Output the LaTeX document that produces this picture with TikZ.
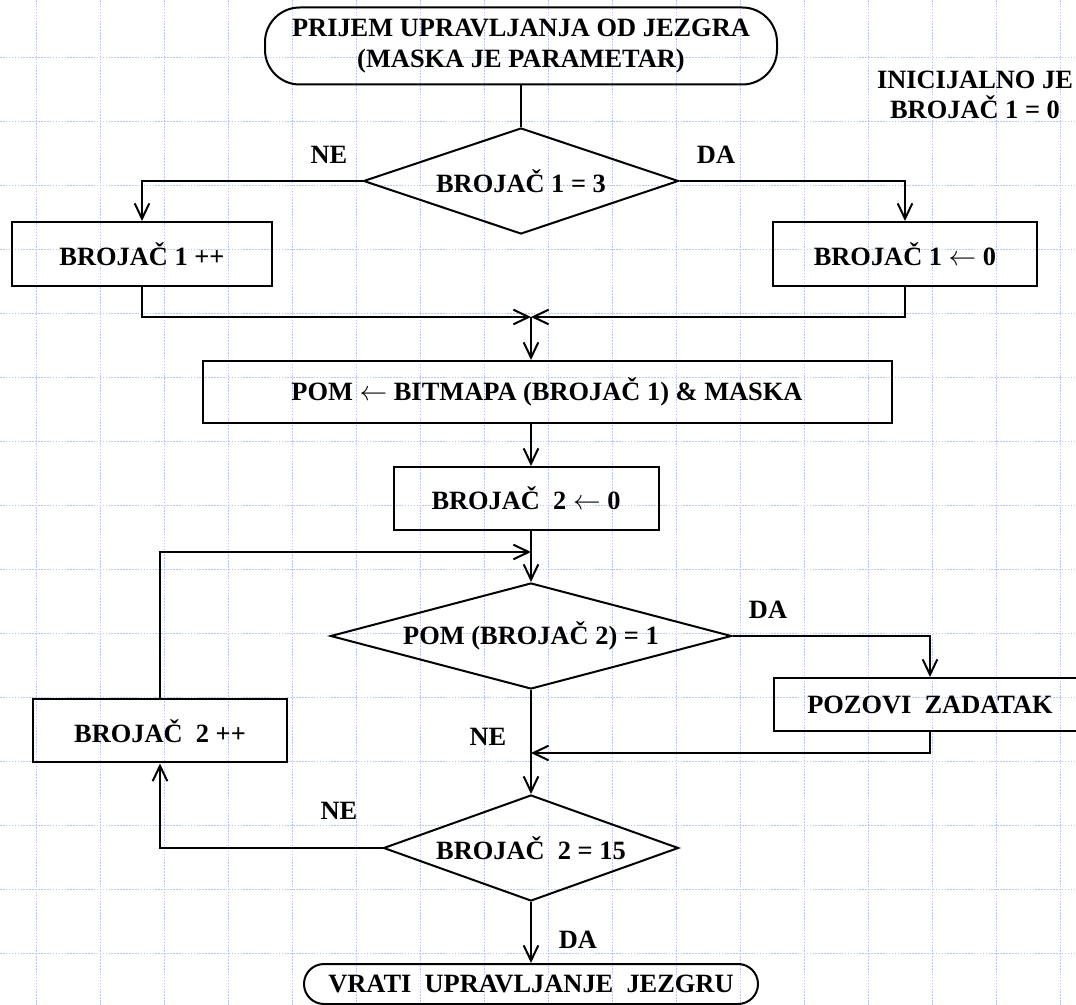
\documentclass[tikz,border=0pt]{standalone}
\usepackage{fontspec}
\setmainfont{Liberation Serif}
\usetikzlibrary{arrows.meta,shapes.geometric}

\begin{document}
\begin{tikzpicture}[x=0.75pt,y=-0.75pt,->,>={Straight Barb[length=11.5pt,width=11pt]},
                    line width=1.5pt,font=\fontsize{19.8}{23}\selectfont\bfseries]
  \tikzstyle{grid line}=[-,draw={rgb,255:red,185;green,198;blue,245},line width=1pt,
                         dash pattern=on 1.2pt off 1pt]
  \tikzstyle{box}=[draw,rectangle,inner sep=2pt]
  \tikzstyle{test}=[draw,diamond,aspect=4,inner sep=0pt,minimum height=79.5pt]
  \tikzstyle{term}=[draw,rectangle,align=center,inner sep=2pt]
  \tikzstyle{lbl}=[inner sep=0pt]

  \useasboundingbox (0,0) rectangle (1076,1005);
  \clip (0,0) rectangle (1076,1005);

  % background grid
  \foreach \gx in {0,...,16}
    \draw[grid line] (36.7+64*\gx,0) -- (36.7+64*\gx,1005);
  \foreach \gy in {0,...,14}
    \draw[grid line] (0,57.7+64*\gy) -- (1076,57.7+64*\gy);

  \node[term,rounded corners=26pt,minimum width=384pt,minimum height=57.75pt] (start) at (521,46)
    {PRIJEM UPRAVLJANJA OD JEZGRA\\(MASKA JE PARAMETAR)};
  \node[test,minimum width=236.25pt] (d1) at (521,181) {BROJAČ 1 = 3};
  \node[box,minimum width=195pt,minimum height=48pt] (inc) at (142,254) {BROJAČ 1 ++};
  \node[box,minimum width=198pt,minimum height=48pt] (rst) at (905,254) {BROJAČ 1 $\leftarrow$ 0};
  \coordinate (join) at (531,317);
  \node[box,minimum width=516.75pt,minimum height=46.5pt] (pom) at (547,392)
    {POM $\leftarrow$ BITMAPA (BROJAČ 1) \& MASKA};
  \node[box,minimum width=198.75pt,minimum height=47.25pt] (cnt) at (526,498.5) {BROJAČ\ \ 2 $\leftarrow$ 0};
  \coordinate (loop) at (531,552);
  \node[test,minimum width=300.75pt] (d2) at (531,636) {POM (BROJAČ 2) = 1};
  \node[box,minimum width=234pt,minimum height=39.75pt] (call) at (930,704.5) {POZOVI\ \ ZADATAK};
  \coordinate (merge) at (531,753);
  \node[box,minimum width=190.5pt,minimum height=47.25pt] (inc2) at (160,731) {BROJAČ\ \ 2 ++};
  \node[test,minimum width=221.25pt] (d3) at (531,848) {BROJAČ\ \ 2 = 15};
  \node[term,rounded corners=15pt,minimum width=340.5pt,minimum height=30pt] (end) at (531,984)
    {VRATI\ \ UPRAVLJANJE\ \ JEZGRU};

  \node[lbl,align=center] (note) at (975,95) {INICIJALNO JE\\BROJAČ 1 = 0};
  \node[lbl] (ne1) at (329,155) {NE};
  \node[lbl] (da1) at (716,155) {DA};
  \node[lbl] (da2) at (768,610) {DA};
  \node[lbl] (ne2) at (488,737) {NE};
  \node[lbl] (ne3) at (339,811) {NE};
  \node[lbl] (da3) at (578,940) {DA};

  \draw[-] (start) -- (d1);
  \draw (d1.west) -| (inc.north);
  \draw (d1.east) -| (rst.north);
  \draw (inc.south) |- (join);
  \draw (rst.south) |- (join);
  \draw (join) -- (join |- pom.north);
  \draw (join |- pom.south) -- (join |- cnt.north);
  \draw (d2.north |- cnt.south) -- (d2.north);
  \draw (inc2.north) |- (loop);
  \draw (d2.east) -| (call.north);
  \draw (call.south) |- (merge);
  \draw (d2.south) -- (d3.north);
  \draw (d3.west) -| (inc2.south);
  \draw (d3.south) -- (end);

\end{tikzpicture}
\end{document}
